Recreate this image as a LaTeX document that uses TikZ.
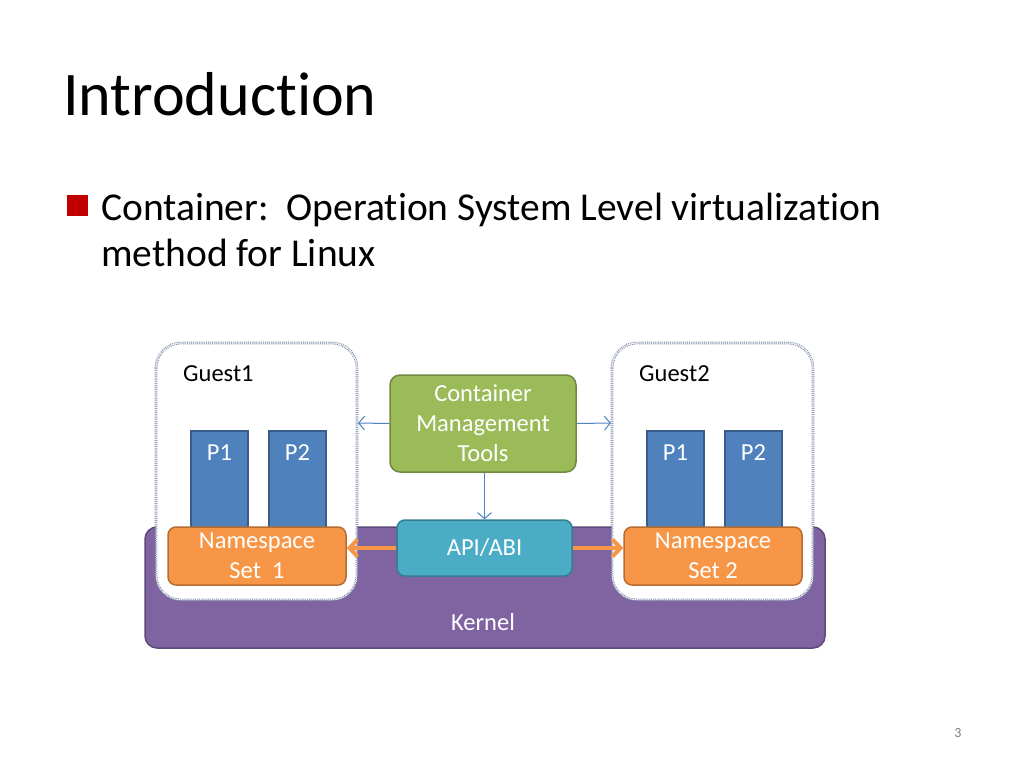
\documentclass[tikz,border=0pt]{standalone}
\usepackage{fontspec}
\setmainfont{Carlito}[RawFeature={-liga;-clig;-calt;-dlig}]
\usetikzlibrary{arrows.meta}
\definecolor{kern}{HTML}{8064A2}
\definecolor{kernb}{HTML}{5C4A7A}
\definecolor{pblue}{HTML}{4F81BD}
\definecolor{pblueb}{HTML}{385D8A}
\definecolor{nsor}{HTML}{F79646}
\definecolor{nsorb}{HTML}{B66D31}
\definecolor{cmtg}{HTML}{9BBB59}
\definecolor{cmtgb}{HTML}{71893F}
\definecolor{apic}{HTML}{4BACC6}
\definecolor{apicb}{HTML}{357D91}
\definecolor{guestb}{HTML}{6F80A0}
\definecolor{bulred}{HTML}{C00000}
\tikzset{
  lbl/.style={font=\fontsize{24.5}{30}\selectfont},
  pbox/.style={draw=pblueb, line width=1.5, fill=pblue, minimum width=57, minimum height=99, inner sep=0},
  nsbox/.style={draw=nsorb, line width=1.5, fill=nsor, rounded corners=8, minimum width=178, minimum height=58, inner sep=0, text=white, align=center, lbl},
  guestbox/.style={draw=guestb, line width=0.9, double=white, double distance=0.9, densely dotted, fill=white, rounded corners=25},
  thinarr/.style={draw=pblue, line width=1, -{Straight Barb[length=6,width=14]}},
  orarr/.style={draw=nsor, line width=4, -{Straight Barb[length=8,width=17]}},
}
\begin{document}
\begin{tikzpicture}[x=1pt,y=-1pt]
\useasboundingbox (0,0) rectangle (1024,768);
\fill[white] (0,0) rectangle (1024,768);
% title and bullet
\node[anchor=base west, inner sep=0, font=\fontsize{62}{74}\selectfont] (title) at (63,115) {Introduct\kern0pt ion};
\fill[bulred] (67,195) rectangle (88,216);
\node[anchor=base west, inner sep=0, font=\fontsize{39.5}{46}\selectfont] (line1) at (101,220) {Container:\ \ Operat\kern0pt ion System Level virtualizat\kern0pt ion};
\node[anchor=base west, inner sep=0, font=\fontsize{39.5}{46}\selectfont] (line2) at (101,266) {method for Linux};
% kernel
\draw[draw=kernb, line width=1.5, fill=kern, rounded corners=12] (145,527) rectangle (825,648);
\node[lbl, text=white] (kernel) at (483,622) {Kernel};
% guests
\draw[guestbox] (156,343) rectangle (357,600);
\draw[guestbox] (612,343) rectangle (813,600);
\coordinate (g1r) at (358,423);
\coordinate (g2l) at (611,423);
\node[lbl, anchor=west, inner sep=0] (g1lab) at (183,374) {Guest1};
\node[lbl, anchor=west, inner sep=0] (g2lab) at (639,374) {Guest2};
% processes
\node[pbox] (g1p1) at (219.5,480.5) {};
\node[pbox] (g1p2) at (297.5,480.5) {};
\node[pbox] (g2p1) at (675.5,480.5) {};
\node[pbox] (g2p2) at (753.5,480.5) {};
\node[lbl, text=white] at (219.5,453) {P1};
\node[lbl, text=white] at (297.5,453) {P2};
\node[lbl, text=white] at (675.5,453) {P1};
\node[lbl, text=white] at (753.5,453) {P2};
% namespaces
\node[nsbox] (ns1) at (257,556) {Namespace\\Set\ \ 1};
\node[nsbox] (ns2) at (713,556) {Namespace\\Set 2};
% CMT
\node[draw=cmtgb, line width=1.5, fill=cmtg, rounded corners=10, minimum width=186, minimum height=97, inner sep=0, text=white, align=center, lbl] (cmt) at (483,423.5) {Container\\Management\\Tools};
% API
\node[draw=apicb, line width=1.5, fill=apic, rounded corners=8, minimum width=175, minimum height=56, inner sep=0, text=white, lbl] (api) at (484.5,548) {API/ABI};
% arrows
\draw[thinarr] (cmt.west) -- (g1r);
\draw[thinarr] (cmt.east) -- (g2l);
\draw[thinarr] (cmt.south -| api.north) -- (api.north);
\draw[orarr] (api.west) -- (api.west -| ns1.east);
\draw[orarr] (api.east) -- (api.east -| ns2.west);
% page number
\node[text=gray, font=\fontsize{14}{16}\selectfont] (pg) at (958,733) {3};
\end{tikzpicture}
\end{document}
